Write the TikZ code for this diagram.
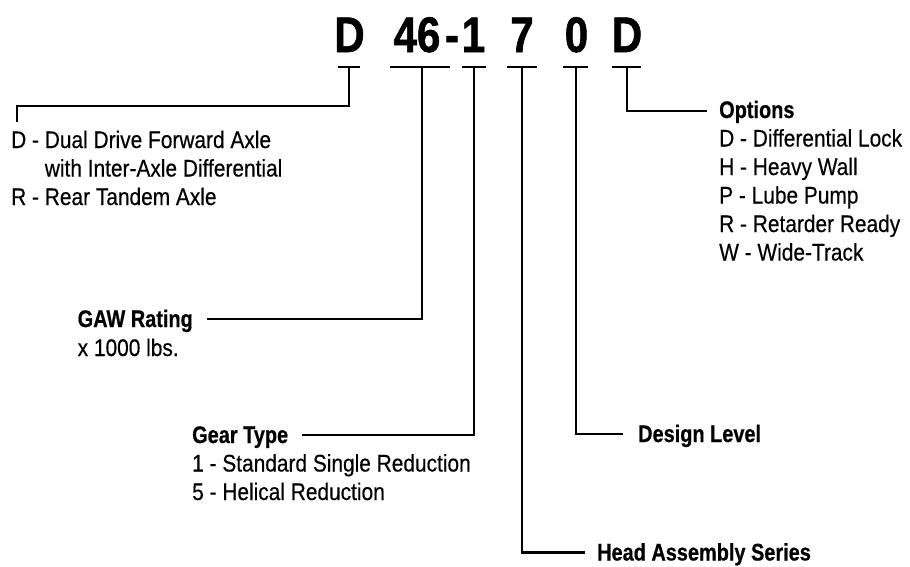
\documentclass[tikz,border=0pt]{standalone}
\usepackage{fontspec}
\setmainfont{Liberation Sans}
\newfontfamily\regcn{Liberation Sans}[FakeStretch=0.87, FakeBold=0.4]
\newfontfamily\boldcn{Liberation Sans}[FakeStretch=0.83, FakeBold=0.6]
\newfontfamily\titlecn{Liberation Sans}[FakeStretch=0.84, FakeBold=1.2]
\begin{document}
\begin{tikzpicture}[x=1pt,y=-1pt]
\useasboundingbox (0,0) rectangle (910,566);
\tikzset{
  ttl/.style={font={\titlecn\bfseries\fontsize{50}{50}\selectfont}, inner sep=0pt, anchor=base},
  lab/.style={font={\boldcn\bfseries\fontsize{24}{28.5}\selectfont}, inner sep=0pt, anchor=base west},
  txt/.style={font={\regcn\fontsize{24}{28.5}\selectfont}, inner sep=0pt, anchor=base west},
  bar/.style={line width=2.2pt},
  conn/.style={line width=2.4pt},
}
% title
\node[ttl] (cD)  at (349.5,52) {D};
\node[ttl] (c46) at (417,52) {46};
\node[ttl] (cdash) at (452,52) {-};
\node[ttl] (c1)  at (473.5,52) {1};
\node[ttl] (c7)  at (522,52) {7};
\node[ttl] (c0)  at (576.5,52) {0};
\node[ttl] (cDo) at (627,52) {D};
% tick bars
\draw[bar] (338,67) -- (360,67);
\draw[bar] (390,67) -- (450,67);
\draw[bar] (462,67) -- (486,67);
\draw[bar] (507,67) -- (537,67);
\draw[bar] (563,67) -- (588,67);
\draw[bar] (612,67) -- (641,67);
\coordinate (tD)  at (349,67);
\coordinate (t46) at (422,67);
\coordinate (t1)  at (474,67);
\coordinate (t7)  at (522,67);
\coordinate (t0)  at (576,67);
\coordinate (tDo) at (627,67);
% left: axle type
\node[txt] (dd1) at (11,148) {D - Dual Drive Forward Axle};
\node[txt] (dd2) at (11,176.5) {\phantom{D - }with Inter-Axle Differential};
\node[txt] (dd3) at (11,205) {R - Rear Tandem Axle};
\coordinate (jD) at (17,106);
\coordinate (eD) at (17,122);
\draw[conn] (tD) |- (jD) -- (eD);
% options
\node[lab] (opt) at (719,118) {Options};
\node[txt] (o1) at (719,146.5) {D - Differential Lock};
\node[txt] (o2) at (719,175) {H - Heavy Wall};
\node[txt] (o3) at (719,203.5) {P - Lube Pump};
\node[txt] (o4) at (719,232) {R - Retarder Ready};
\node[txt] (o5) at (719,260.5) {W - Wide-Track};
\coordinate (eDo) at (707,111);
\draw[conn] (tDo) |- (eDo);
% GAW
\node[lab, anchor=base east] (gaw) at (193,327) {GAW Rating};
\node[txt] (gaw2) at ([yshift=-29pt]gaw.base west) {x 1000 lbs.};
\coordinate (e46) at (207,319);
\draw[conn] (t46) |- (e46);
% gear type
\node[lab] (gear) at (192,443) {Gear Type};
\node[txt] (g1) at (192,471.5) {1 - Standard Single Reduction};
\node[txt] (g2) at (192,500) {5 - Helical Reduction};
\coordinate (e1) at (302,435);
\draw[conn] (t1) |- (e1);
% design level
\node[lab] (design) at (638,442) {Design Level};
\coordinate (e0) at (623,434);
\draw[conn] (t0) |- (e0);
% head assembly series
\node[lab] (head) at (597,560.5) {Head Assembly Series};
\coordinate (e7) at (585,552.5);
\draw[conn] (t7) |- (e7);
\end{tikzpicture}
\end{document}
